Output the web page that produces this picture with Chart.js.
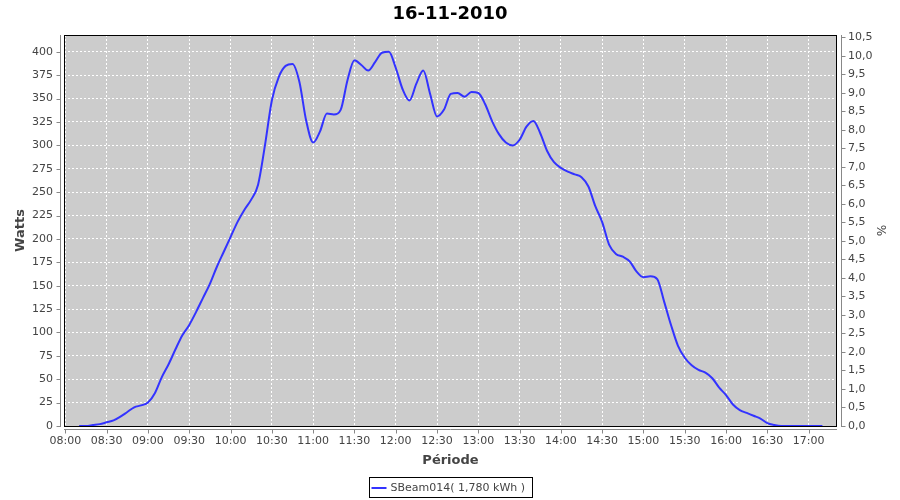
<!DOCTYPE html>
<html>
<head>
<meta charset="utf-8">
<script src="https://cdn.jsdelivr.net/npm/chart.js@4.4.1/dist/chart.umd.min.js"></script>
<style>
	html, body { margin: 0; padding: 0; background: #fff; }
	#wrap { width: 900px; height: 500px; }
</style>
</head>
<body>
<div id="wrap"><canvas id="power_chart" width="900" height="500"></canvas></div>
<script>
var chartTitle = '16-11-2010';
var seriesLabel = 'SBeam014( 1,780 kWh )';

// one reading every 5 minutes, starting 08:10
var startTime = '08:10';
var stepMinutes = 5;
var watts = [
	0, 0, 1, 2, 4, 6, 10, 15, 20, 22,
	25, 35, 52, 66, 82, 97, 108, 122, 137, 152,
	170, 186, 202, 218, 231, 242, 258, 300, 348, 373,
	385, 387, 368, 326, 303, 315, 334, 333, 338, 370,
	391, 386, 380, 389, 399, 400, 383, 360, 348, 366,
	380, 355, 331, 338, 355, 356, 352, 357, 356, 344,
	326, 312, 303, 300, 306, 320, 326, 313, 294, 282,
	276, 272, 269, 266, 256, 235, 218, 194, 184, 181,
	176, 165, 159, 160, 157, 133, 108, 86, 73, 65,
	60, 57, 51, 41, 33, 23, 17, 14, 11, 8,
	3, 1, 0, 0, 0, 0, 0, 0, 0
];

var timeTicks = ['08:00', '08:30', '09:00', '09:30', '10:00', '10:30', '11:00', '11:30', '12:00',
	'12:30', '13:00', '13:30', '14:00', '14:30', '15:00', '15:30', '16:00', '16:30', '17:00'];
var wattTicks = [0, 25, 50, 75, 100, 125, 150, 175, 200, 225, 250, 275, 300, 325, 350, 375, 400];
var percentTicks = [0, 0.5, 1, 1.5, 2, 2.5, 3, 3.5, 4, 4.5, 5, 5.5, 6, 6.5, 7, 7.5, 8, 8.5, 9, 9.5, 10, 10.5];

function toMinutes(hhmm) {
	var p = hhmm.split(':');
	return parseInt(p[0], 10) * 60 + parseInt(p[1], 10);
}

function toClock(minutes) {
	var h = Math.floor(minutes / 60);
	var m = Math.round(minutes % 60);
	return (h < 10 ? '0' : '') + h + ':' + (m < 10 ? '0' : '') + m;
}

var start = toMinutes(startTime);
var points = watts.map(function (w, i) {
	return { x: start + i * stepMinutes, y: w };
});

var tickFont = { family: "'DejaVu Sans', sans-serif", size: 11 };
var titleFont = { family: "'DejaVu Sans', sans-serif", size: 13, weight: 'bold' };

var plotFrame = {
	id: 'plotFrame',
	beforeDraw: function (chart) {
		var a = chart.chartArea;
		var ctx = chart.ctx;
		ctx.save();
		ctx.fillStyle = '#cccccc';
		ctx.fillRect(a.left, a.top, a.right - a.left, a.bottom - a.top);
		ctx.restore();
	},
	afterDraw: function (chart) {
		var a = chart.chartArea;
		var ctx = chart.ctx;
		var xs = chart.scales.x, yl = chart.scales.y, yr = chart.scales.y2;

		ctx.save();
		// plot outline
		ctx.strokeStyle = '#000';
		ctx.lineWidth = 1;
		ctx.strokeRect(Math.round(a.left) + 0.5, Math.round(a.top) + 0.5,
			Math.round(a.right - a.left) - 1, Math.round(a.bottom - a.top));

		// offset axis lines with tick marks
		ctx.strokeStyle = '#888';
		ctx.beginPath();
		var lx = Math.round(a.left) - 3.5;
		ctx.moveTo(lx, a.top); ctx.lineTo(lx, a.bottom + 1);
		wattTicks.forEach(function (v) {
			var py = Math.round(yl.getPixelForValue(v)) + 0.5;
			ctx.moveTo(lx - 4, py); ctx.lineTo(lx, py);
		});
		var rx = Math.round(a.right) + 4.5;
		ctx.moveTo(rx, a.top); ctx.lineTo(rx, a.bottom + 1);
		percentTicks.forEach(function (v) {
			var py = Math.round(yr.getPixelForValue(v)) + 0.5;
			ctx.moveTo(rx, py); ctx.lineTo(rx + 4, py);
		});
		var by = Math.round(a.bottom) + 3.5;
		ctx.moveTo(a.left, by); ctx.lineTo(a.right, by);
		timeTicks.forEach(function (t) {
			var px = Math.round(xs.getPixelForValue(toMinutes(t))) + 0.5;
			ctx.moveTo(px, by); ctx.lineTo(px, by + 4);
		});
		ctx.stroke();

		// legend box
		ctx.font = "11px 'DejaVu Sans', sans-serif";
		var tw = ctx.measureText(seriesLabel).width;
		var bw = Math.round(tw + 28);
		var bx = Math.round((a.left + a.right) / 2 - bw / 2) + 0.5;
		var bt = 477.5;
		ctx.strokeStyle = '#000';
		ctx.strokeRect(bx, bt, bw, 20);
		ctx.strokeStyle = '#3333ff';
		ctx.lineWidth = 2;
		ctx.beginPath();
		ctx.moveTo(bx + 2, bt + 10.5); ctx.lineTo(bx + 17, bt + 10.5);
		ctx.stroke();
		ctx.fillStyle = '#444';
		ctx.textBaseline = 'middle';
		ctx.fillText(seriesLabel, bx + 21, bt + 10.5);
		ctx.restore();
	}
};

var ctx = document.getElementById('power_chart').getContext('2d');
window.powerChart = new Chart(ctx, {
	type: 'line',
	data: {
		datasets: [{
			label: seriesLabel,
			data: points,
			yAxisID: 'y',
			borderColor: '#3333ff',
			borderWidth: 2,
			pointRadius: 0,
			fill: false,
			cubicInterpolationMode: 'monotone'
		}]
	},
	options: {
		responsive: false,
		animation: false,
		layout: { padding: 0 },
		scales: {
			x: {
				type: 'linear',
				min: 479,
				max: 1040.6,
				afterBuildTicks: function (scale) {
					scale.ticks = timeTicks.map(function (t) { return { value: toMinutes(t) }; });
				},
				afterFit: function (scale) { scale.height = 74; },
				grid: { color: '#ffffff', lineWidth: 1, drawTicks: false },
				border: { display: false, dash: [2, 2] },
				ticks: {
					autoSkip: false,
					maxRotation: 0,
					padding: 9,
					color: '#444',
					font: tickFont,
					callback: function (value) { return toClock(value); }
				},
				title: { display: true, text: 'Période', color: '#444', font: titleFont, padding: { bottom: 32 } }
			},
			y: {
				position: 'left',
				min: 0,
				max: 418,
				afterBuildTicks: function (scale) {
					scale.ticks = wattTicks.map(function (v) { return { value: v }; });
				},
				afterFit: function (scale) { scale.width = 64; },
				grid: { color: '#ffffff', lineWidth: 1, drawTicks: false },
				border: { display: false, dash: [2, 2] },
				ticks: { padding: 11, color: '#444', font: tickFont },
				title: { display: true, text: 'Watts', color: '#444', font: titleFont, padding: { top: 13 } }
			},
			y2: {
				position: 'right',
				min: 0,
				max: 10.56,
				afterBuildTicks: function (scale) {
					scale.ticks = percentTicks.map(function (v) { return { value: v }; });
				},
				afterFit: function (scale) { scale.width = 63; },
				grid: { display: false, drawTicks: false },
				border: { display: false },
				ticks: {
					padding: 11,
					color: '#444',
					font: tickFont,
					callback: function (value) { return value.toFixed(1).replace('.', ','); }
				},
				title: { display: true, text: '%', color: '#444', font: { family: "'DejaVu Sans', sans-serif", size: 12 }, padding: { top: 13 } }
			}
		},
		plugins: {
			legend: { display: false },
			tooltip: { enabled: false },
			title: {
				display: true,
				text: chartTitle,
				color: '#000',
				font: { family: "'DejaVu Sans', sans-serif", size: 18, weight: 'bold' },
				padding: { top: 3.5, bottom: 9.9 }
			}
		}
	},
	plugins: [plotFrame]
});
</script>
</body>
</html>
